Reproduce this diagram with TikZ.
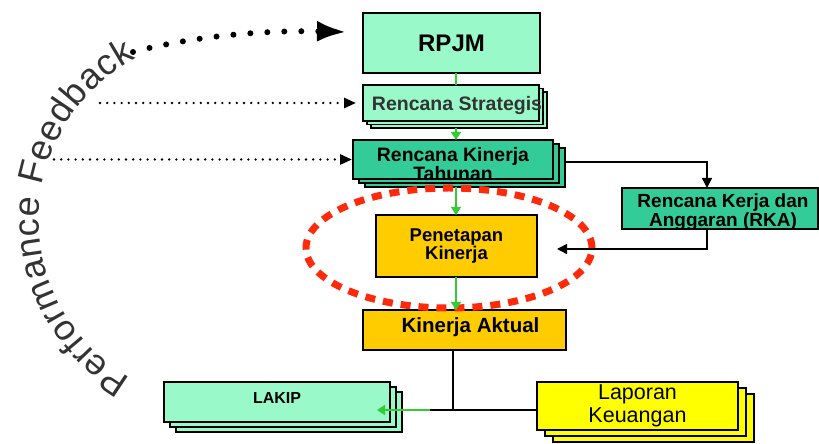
\documentclass[tikz,border=0pt]{standalone}
\usepackage{fontspec}
\setmainfont{Liberation Sans}
\usetikzlibrary{arrows.meta,decorations.text,calc}
\definecolor{cMint}{HTML}{99F9C9}
\definecolor{cTeal}{HTML}{33CC99}
\definecolor{cGold}{HTML}{FFCC00}
\definecolor{cYel}{HTML}{FFFF00}
\definecolor{cGrn}{HTML}{33CC33}
\definecolor{cRed}{HTML}{FF2A0A}
\newcommand\fbfmt{\fontsize{36}{36}\selectfont\color{black!80}}
\newcommand\fsz[1]{\fontsize{#1}{#1}\selectfont}
\tikzset{
  bx/.style={draw=black, line width=1.6pt, inner sep=0pt, outer sep=0pt, align=center},
  mintbox/.style={bx, fill=cMint},
  tealbox/.style={bx, fill=cTeal},
  goldbox/.style={bx, fill=cGold},
  yelbox/.style={bx, fill=cYel},
  garrow/.style={draw=cGrn, line width=1.6pt, -{Triangle[length=8pt,width=10pt]}},
  gline/.style={draw=cGrn, line width=1.6pt},
  blkline/.style={draw=black, line width=1.5pt},
  blkarrow/.style={blkline, -{Triangle[length=10pt,width=10pt]}},
  bigdots/.style={draw=black, line width=6pt, line cap=round, dash pattern=on 0pt off 17pt},
  smalldots/.style={draw=black, line width=2.6pt, line cap=round, dash pattern=on 0pt off 7.2pt},
  redring/.style={draw=cRed, line width=7pt, dash pattern=on 10pt off 8pt},
}
\begin{document}
\begin{tikzpicture}[x=1pt,y=1pt]
\useasboundingbox (0,0) rectangle (819,444);
\fill[white] (0,0) rectangle (819,444);

% RPJM
\node[mintbox, minimum width=177, minimum height=60, font=\bfseries\fsz{24}] (RPJM) at (451.5,401) {RPJM};

% Rencana Strategis (stack)
\node[mintbox, minimum width=176, minimum height=36] (RSs2) at (459,334) {};
\node[mintbox, minimum width=176, minimum height=36] (RSs1) at (455,337.5) {};
\node[mintbox, minimum width=176, minimum height=36,
  label={[name=RSt, font=\bfseries\fsz{19.5}, text=black!80, yshift=-3pt, xshift=6pt]center:Rencana Strategis}] (RS) at (451,341) {};

% Rencana Kinerja Tahunan (stack)
\node[tealbox, minimum width=200, minimum height=39] (RKTs2) at (465,276.5) {};
\node[tealbox, minimum width=200, minimum height=39] (RKTs1) at (459,280.5) {};
\node[tealbox, minimum width=200, minimum height=39,
  label={[name=RKTt, font=\bfseries\fontsize{19.4}{18}\selectfont, align=center, yshift=-4.5pt]center:Rencana Kinerja\\Tahunan}] (RKT) at (453,284.5) {};

% Rencana Kerja dan Anggaran
\node[tealbox, minimum width=196, minimum height=41,
  label={[name=RKAt, font=\bfseries\fontsize{19}{19}\selectfont, align=center, yshift=-4pt, xshift=3pt]center:Rencana Kerja dan\\Anggaran (RKA)}] (RKA) at (720,235.5) {};

% Penetapan Kinerja
\node[goldbox, minimum width=161, minimum height=62, font=\bfseries\fontsize{18.5}{18}\selectfont] (Pen) at (456.5,198) {Penetapan\\Kinerja};

% Kinerja Aktual
\node[goldbox, minimum width=203, minimum height=40,
  label={[name=KAt, font=\bfseries\fsz{20.5}, yshift=3pt, xshift=6pt]center:Kinerja Aktual}] (KA) at (464.5,114) {};

% LAKIP (stack)
\node[mintbox, minimum width=226, minimum height=40] (LAKIPs2) at (289,32) {};
\node[mintbox, minimum width=226, minimum height=40] (LAKIPs1) at (283,37) {};
\node[mintbox, minimum width=226, minimum height=40,
  label={[name=LAKIPt, font=\bfseries\fsz{16}, yshift=4pt]center:LAKIP}] (LAKIP) at (277,42) {};

% Laporan Keuangan (stack)
\node[yelbox, minimum width=201, minimum height=48] (LKs2) at (653.5,26) {};
\node[yelbox, minimum width=201, minimum height=48] (LKs1) at (645.5,32) {};
\node[yelbox, minimum width=201, minimum height=48, font=\fontsize{21.5}{23}\selectfont] (LK) at (637.5,38) {Laporan\\Keuangan};

% red dotted ring
\draw[redring] (449,196) ellipse [x radius=143, y radius=60];

% green vertical flow
\coordinate (ax) at (456,0);
\draw[gline] (RPJM.south -| ax) -- (RS.north -| ax);
\draw[garrow] (RSs2.south -| ax) -- (RKT.north -| ax);
\draw[garrow] (RKTs2.south -| ax) -- (Pen.north -| ax);
\draw[garrow] (Pen.south -| ax) -- (KA.north -| ax);

% black connectors to/from RKA
\coordinate (c1) at (707,282);
\coordinate (c2) at (557,195);
\draw[blkarrow] (RKTs2.east |- c1) -| (RKA.north -| c1);
\draw[blkarrow] (RKA.south -| c1) |- (c2);

% reporting branch
\coordinate (j) at (453,34);
\coordinate (c3) at (430,34);
\coordinate (c4) at (377,34);
\draw[blkline] (KA.south -| j) -- (j);
\draw[blkline] (LK.west |- j) -- (c3);
\draw[garrow] (c3) -- (c4);

% performance feedback arrows
\coordinate (f1s) at (133,392);
\coordinate (f1e) at (347,412);
\draw[bigdots, -{Latex[length=30pt,width=21pt]}] (f1s) .. controls (190,407) and (260,414) .. (f1e);
\coordinate (f2s) at (100,0);
\draw[smalldots, -{Triangle[length=12pt,width=10pt]}, shorten >=7pt] (f2s |- RS.west) -- (RS.west);
\coordinate (f3s) at (54,0);
\draw[smalldots, -{Triangle[length=12pt,width=10pt]}, shorten >=1pt] (f3s |- RKT.west) -- (RKT.west);

% curved label
\coordinate (fbc) at (222,224);
\path[decorate, decoration={text along path, text align=fit to path,
  text={|\fbfmt|Performance Feedback}}]
  (fbc) ++(240:183) arc[start angle=240, end angle=118, radius=183];
\end{tikzpicture}
\end{document}
